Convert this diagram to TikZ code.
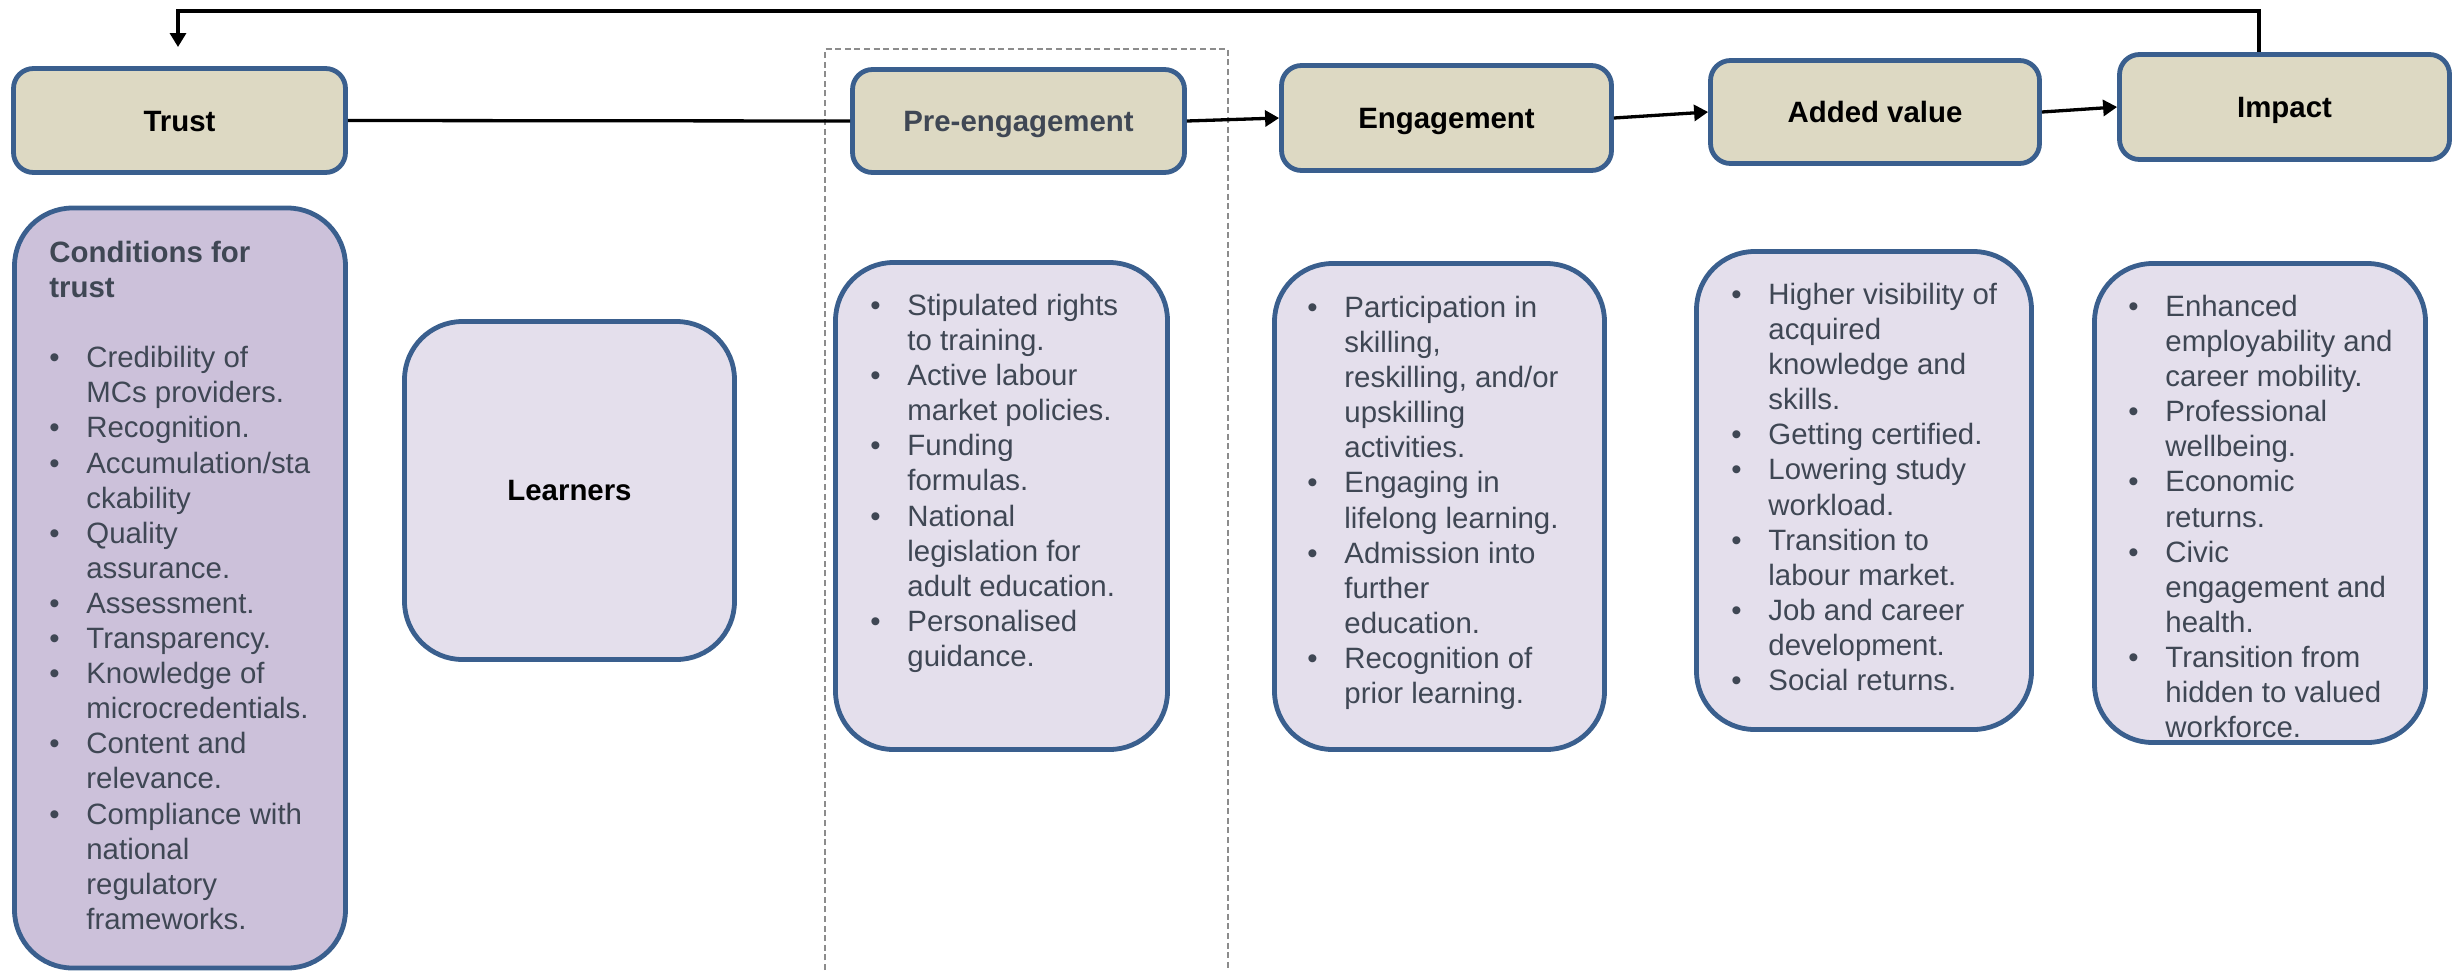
\documentclass[tikz,border=0pt]{standalone}
\usepackage{fontspec}
\setmainfont{Liberation Sans}
\usetikzlibrary{arrows.meta}

\definecolor{stageFill}{HTML}{DDD9C3}
\definecolor{boxLine}{HTML}{3A5F8E}
\definecolor{condFill}{HTML}{CCC1DA}
\definecolor{listFill}{HTML}{E4DFEC}
\definecolor{bodyText}{HTML}{3F4754}
\definecolor{frameGray}{HTML}{8C8C8C}

% bullet marker, continuation indent and first-line strut for the lists
\newcommand\bpt{\makebox[18.5pt][l]{\textbullet}}
\newcommand\bcont{\hspace*{18.5pt}}
\newcommand\firstln{\rule{0pt}{12pt}}
\newcommand\bodysize{\fontsize{14.7pt}{17.55pt}\selectfont}

\tikzset{
  stagebox/.style={draw=boxLine, line width=2.4pt, fill=stageFill,
    rounded corners=10pt, inner sep=0pt,
    font=\bodysize\bfseries, text height=10.5pt, text depth=0pt},
  listbox/.style={draw=boxLine, line width=2.4pt, fill=listFill,
    rounded corners=29pt, inner sep=0pt},
  condbox/.style={listbox, fill=condFill},
  listtext/.style={anchor=north west, inner sep=0pt, align=left,
    text=bodyText, font=\bodysize},
  conn/.style={draw=black, line width=1.65pt},
  arr/.style={conn, -{Triangle[length=7pt,width=8pt]}},
}

\begin{document}
\begin{tikzpicture}[x=0.5pt, y=-0.5pt]
\useasboundingbox (0,0) rectangle (2460,970);

% dashed frame around the pre-engagement column
\draw[frameGray, line width=0.75pt, dash pattern=on 3pt off 1.8pt]
  (825,970) -- (825,49) -- (1228,49) -- (1228,970);

% stage boxes
\node[stagebox, minimum width=166pt, minimum height=52pt] (trust) at (179.5,120.5) {Trust};
\node[stagebox, minimum width=166pt, minimum height=51.5pt, text=bodyText] (pre) at (1018.5,121) {Pre-engagement};
\node[stagebox, minimum width=165pt, minimum height=52.5pt] (eng) at (1446.5,118) {Engagement};
\node[stagebox, minimum width=164.5pt, minimum height=51.5pt] (add) at (1875,112) {Added value};
\node[stagebox, minimum width=165pt, minimum height=52.5pt] (imp) at (2284.5,107) {Impact};

% detail boxes
\node[condbox, minimum width=165.5pt, minimum height=380pt] (condbox) at (180,588) {};
\node[listbox, minimum width=165pt, minimum height=169pt, font=\bodysize\bfseries] (learners) at (569.5,490.5) {Learners};
\node[listbox, minimum width=166pt, minimum height=243.5pt] (prelist) at (1001.5,506) {};
\node[listbox, minimum width=165pt, minimum height=243pt] (englist) at (1439.5,506.5) {};
\node[listbox, minimum width=167.5pt, minimum height=239pt] (addlist) at (1864,490.5) {};
\node[listbox, minimum width=165.5pt, minimum height=239.5pt] (implist) at (2260,503) {};

% list texts
\node[listtext] (condtext) at (49,238) {%
  \firstln{\bfseries Conditions for}\\
  {\bfseries trust}\\[17.55pt]
  \bpt Credibility of\\
  \bcont MCs providers.\\
  \bpt Recognition.\\
  \bpt Accumulation/sta\\
  \bcont ckability\\
  \bpt Quality\\
  \bcont assurance.\\
  \bpt Assessment.\\
  \bpt Transparency.\\
  \bpt Knowledge of\\
  \bcont microcredentials.\\
  \bpt Content and\\
  \bcont relevance.\\
  \bpt Compliance with\\
  \bcont national\\
  \bcont regulatory\\
  \bcont frameworks.};

\node[listtext] (pretext) at (870,291) {%
  \firstln\bpt Stipulated rights\\
  \bcont to training.\\
  \bpt Active labour\\
  \bcont market policies.\\
  \bpt Funding\\
  \bcont formulas.\\
  \bpt National\\
  \bcont legislation for\\
  \bcont adult education.\\
  \bpt Personalised\\
  \bcont guidance.};

\node[listtext] (engtext) at (1307,293) {%
  \firstln\bpt Participation in\\
  \bcont skilling,\\
  \bcont reskilling, and/or\\
  \bcont upskilling\\
  \bcont activities.\\
  \bpt Engaging in\\
  \bcont lifelong learning.\\
  \bpt Admission into\\
  \bcont further\\
  \bcont education.\\
  \bpt Recognition of\\
  \bcont prior learning.};

\node[listtext] (addtext) at (1731,280) {%
  \firstln\bpt Higher visibility of\\
  \bcont acquired\\
  \bcont knowledge and\\
  \bcont skills.\\
  \bpt Getting certified.\\
  \bpt Lowering study\\
  \bcont workload.\\
  \bpt Transition to\\
  \bcont labour market.\\
  \bpt Job and career\\
  \bcont development.\\
  \bpt Social returns.};

\node[listtext] (imptext) at (2128,292) {%
  \firstln\bpt Enhanced\\
  \bcont employability and\\
  \bcont career mobility.\\
  \bpt Professional\\
  \bcont wellbeing.\\
  \bpt Economic\\
  \bcont returns.\\
  \bpt Civic\\
  \bcont engagement and\\
  \bcont health.\\
  \bpt Transition from\\
  \bcont hidden to valued\\
  \bcont workforce.};

% connectors along the chain
\draw[conn] (trust.east) -- (pre.west);
\draw[arr] (pre.east) -- (eng.west);
\draw[arr] (eng.east) -- (add.west);
\draw[arr] (add.east) -- (imp.west);

% feedback loop from impact back to trust
\coordinate (fbR) at (2259,11);
\coordinate (fbL) at (178,11);
\coordinate (fbEnd) at (178,47);
\draw[arr] (imp.north -| fbR) -- (fbR) -- (fbL) -- (fbEnd);
\end{tikzpicture}
\end{document}
